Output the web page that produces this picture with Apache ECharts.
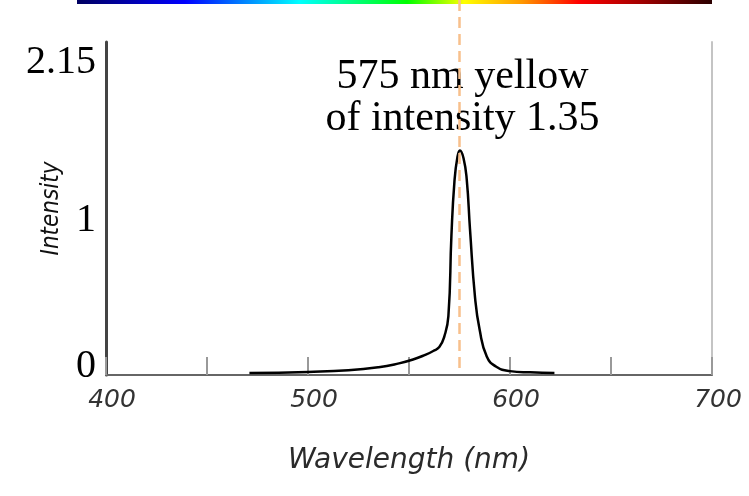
<!DOCTYPE html>
<html>
<head>
<meta charset="utf-8">
<script src="https://cdn.jsdelivr.net/npm/echarts@6/dist/echarts.min.js"></script>
<style>
  html, body { margin: 0; padding: 0; background: #fff; }
  #main { width: 749px; height: 496px; }
</style>
</head>
<body>
<div id="main"></div>
<script>
// spectrum
var wavelength = [471, 500, 520, 535, 545, 552, 558, 562, 565, 567.5, 569.5, 571, 572.5, 574, 575.2, 577, 578.6, 580.2, 582.7, 585, 588.5, 593, 600, 610, 622];
var intensity  = [0.013, 0.02, 0.03, 0.05, 0.075, 0.10, 0.13, 0.155, 0.18, 0.25, 0.38, 0.9, 1.25, 1.41, 1.45, 1.40, 1.26, 0.94, 0.50, 0.29, 0.12, 0.055, 0.025, 0.017, 0.013];

var peakNm = 575;
var xTicks = [400, 500, 600, 700];
var yTicks = [0, 1, 2.15];
var noteLines = ['575 nm yellow', 'of intensity 1.35'];

var chart = echarts.init(document.getElementById('main'));

var points = wavelength.map(function (w, i) { return [w, intensity[i]]; });

var option = {
  backgroundColor: '#fff',
  animation: false,
  grid: { left: 106, right: 37, top: 42, bottom: 121, outerBoundsMode: 'none' },
  xAxis: {
    type: 'value',
    min: 400,
    max: 700,
    interval: 50,
    name: 'Wavelength (nm)',
    nameLocation: 'middle',
    nameGap: 72,
    nameMoveOverlap: false,
    nameTextStyle: { fontFamily: 'DejaVu Sans', fontStyle: 'italic', fontSize: 28, color: '#2a2a2a' },
    axisLine: { lineStyle: { color: '#666', width: 2 } },
    axisTick: { inside: true, length: 18, lineStyle: { color: '#999', width: 2 } },
    splitLine: { show: false },
    axisLabel: {
      margin: 13,
      padding: [0, 0, 0, 12],
      fontFamily: 'DejaVu Sans',
      fontStyle: 'italic',
      fontSize: 25,
      color: '#333',
      formatter: function (v) { return xTicks.indexOf(v) >= 0 ? String(v) : ''; }
    }
  },
  yAxis: [{
    type: 'value',
    min: 0,
    max: 2.15,
    name: 'Intensity',
    nameLocation: 'middle',
    nameGap: 42,
    nameMoveOverlap: false,
    nameTextStyle: { fontFamily: 'DejaVu Sans Condensed', fontStyle: 'italic', fontSize: 24, color: '#111' },
    axisLine: { show: true, lineStyle: { color: '#444', width: 3 } },
    axisTick: { show: false },
    splitLine: { show: false },
    axisLabel: {
      customValues: yTicks,
      margin: 10,
      fontFamily: 'Liberation Serif',
      fontSize: 40,
      color: '#000',
      formatter: function (v) {
        if (v === 2.15) return '{t|2.15}';
        if (v === 0) return '{b|0}';
        return '{m|' + v + '}';
      },
      rich: {
        t: { fontFamily: 'Liberation Serif', fontSize: 40, color: '#000', padding: [40, 0, 0, 0] },
        b: { fontFamily: 'Liberation Serif', fontSize: 40, color: '#000', padding: [0, 0, 18, 0] },
        m: { fontFamily: 'Liberation Serif', fontSize: 40, color: '#000' }
      }
    }
  }, {
    type: 'value',
    position: 'right',
    min: 0,
    max: 2.15,
    axisLine: { show: true, lineStyle: { color: '#c4c4c4', width: 2 } },
    axisTick: { show: false },
    axisLabel: { show: false },
    splitLine: { show: false }
  }],
  series: [{
    type: 'line',
    data: points,
    showSymbol: false,
    smooth: 0.5,
    lineStyle: { color: '#000', width: 2.5 },
    z: 3
  }]
};
chart.setOption(option);

// marker line at the peak and the spectrum strip, placed from the axes
var px = chart.convertToPixel({ xAxisIndex: 0 }, peakNm);
var y0 = chart.convertToPixel({ yAxisIndex: 0 }, 0);
var xEnd = chart.convertToPixel({ xAxisIndex: 0 }, 700);

chart.setOption({
  graphic: [
    {
      type: 'rect',
      shape: { x: 77, y: 0, width: xEnd - 77, height: 4 },
      style: {
        fill: new echarts.graphic.LinearGradient(0, 0, 1, 0, [
          { offset: 0, color: '#000060' },
          { offset: 0.17, color: '#0000ff' },
          { offset: 0.35, color: '#00ffff' },
          { offset: 0.52, color: '#00ff00' },
          { offset: 0.61, color: '#ffff00' },
          { offset: 0.70, color: '#ff9900' },
          { offset: 0.79, color: '#ff0000' },
          { offset: 0.89, color: '#a00000' },
          { offset: 1, color: '#2a0000' }
        ])
      },
      z: 10
    },
    {
      type: 'line',
      shape: { x1: px, y1: 0, x2: px, y2: y0 - 4 },
      style: { stroke: '#f8c08c', lineWidth: 2.5, lineDash: [11, 6] },
      z: 20
    },
    {
      type: 'text',
      x: px + 3,
      y: 56,
      style: {
        text: noteLines.join('\n'),
        fontFamily: 'Liberation Serif',
        fontSize: 42,
        lineHeight: 42,
        align: 'center',
        fill: '#000'
      },
      z: 15
    }
  ]
});
</script>
</body>
</html>
